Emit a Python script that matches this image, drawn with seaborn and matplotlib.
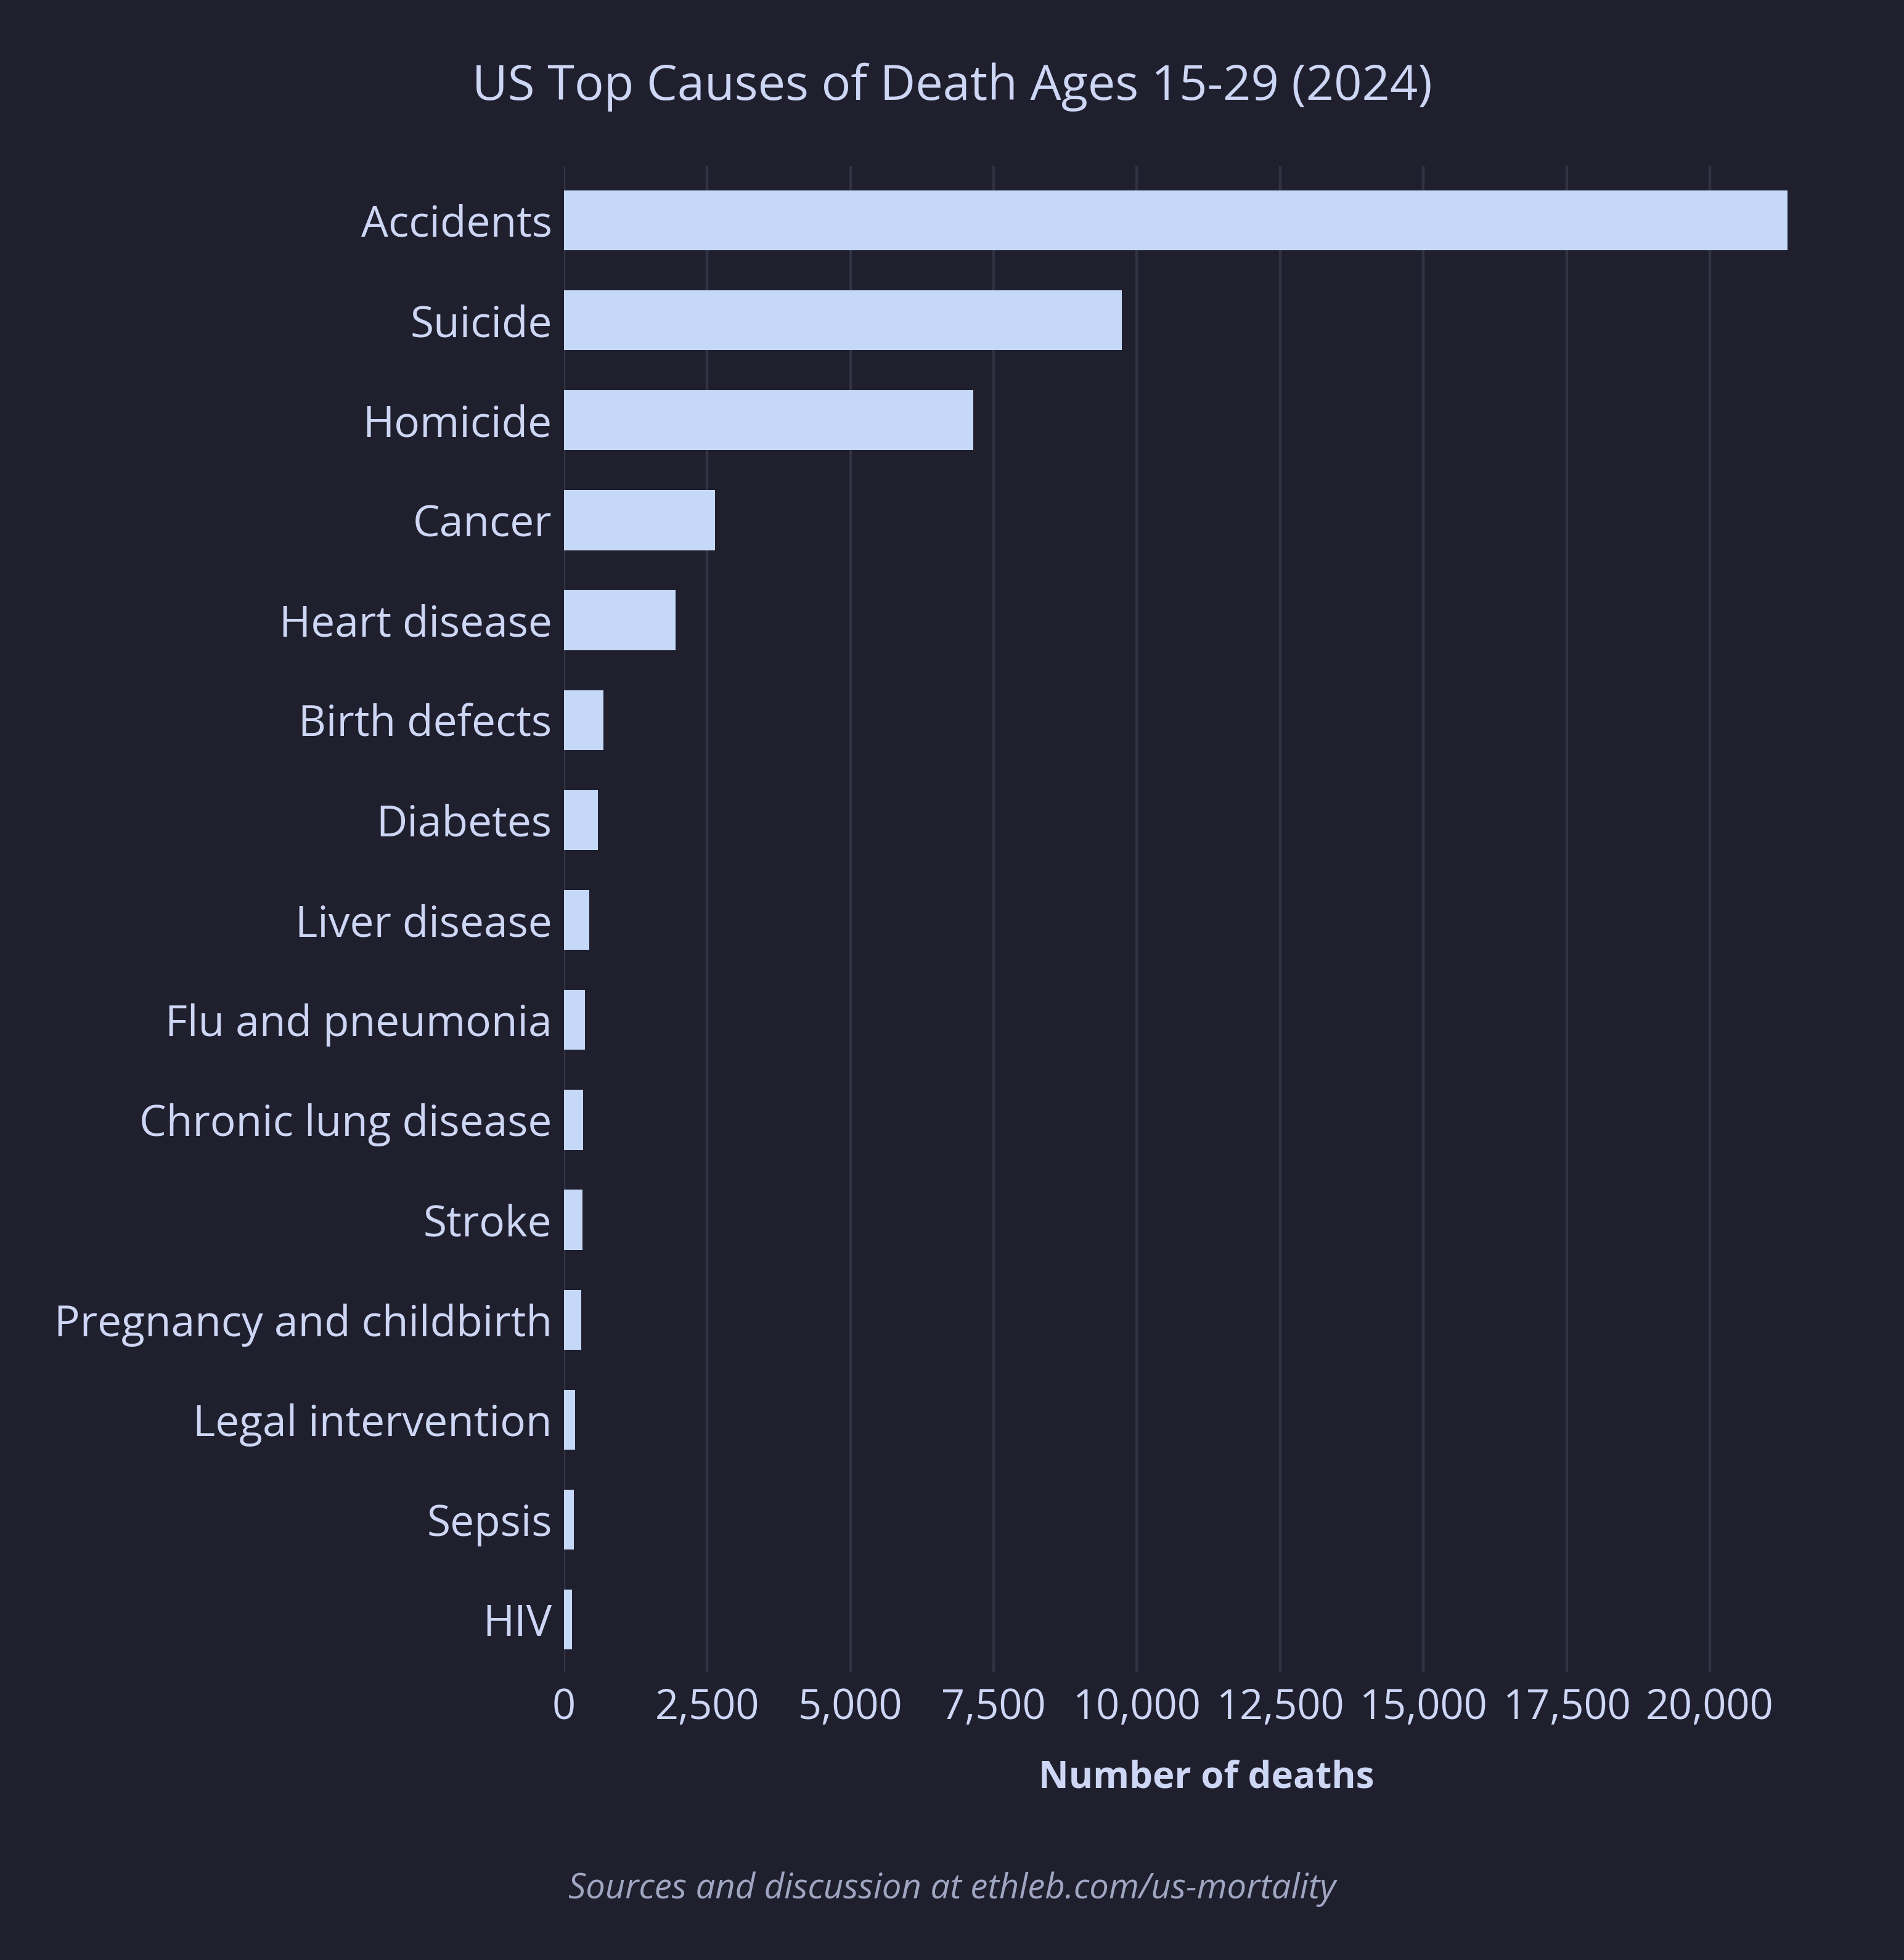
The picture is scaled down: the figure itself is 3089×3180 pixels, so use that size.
import matplotlib
matplotlib.use("Agg")
import matplotlib.pyplot as plt
import matplotlib.ticker as mticker
import pandas as pd
import seaborn as sns

causes = ["Accidents", "Suicide", "Homicide", "Cancer", "Heart disease",
          "Birth defects", "Diabetes", "Liver disease", "Flu and pneumonia",
          "Chronic lung disease", "Stroke", "Pregnancy and childbirth",
          "Legal intervention", "Sepsis", "HIV"]
deaths = [21356, 9737, 7144, 2636, 1947, 689, 592, 441, 366, 334, 323, 301,
          194, 172, 140]
xticks = [0, 2500, 5000, 7500, 10000, 12500, 15000, 17500, 20000]

bg = "#1f1f2e"
fg = "#cdd6f4"
bar_color = "#c5d8f7"
grid_color = "#313244"
muted = "#a0a6c2"

sns.set_theme(style="dark")
plt.rcParams["font.family"] = ["Open Sans", "DejaVu Sans"]

df = pd.DataFrame({"cause": causes, "deaths": deaths})

fig = plt.figure(figsize=(15.445, 15.9), dpi=200, facecolor=bg)
ax = fig.add_axes([0.2962, 0.1469, 0.6426, 0.7685])
ax.set_facecolor(bg)

sns.barplot(data=df, x="deaths", y="cause", order=causes, color=bar_color,
            width=0.6, saturation=1, linewidth=0, ax=ax)

ax.set_xlim(0, max(deaths))
ax.set_ylim(len(causes) - 0.475, -0.545)
ax.set_xticks(xticks)
ax.xaxis.set_major_formatter(mticker.FuncFormatter(lambda v, p: f"{int(v):,}"))
ax.grid(axis="x", color=grid_color, linewidth=1.6)
ax.grid(axis="y", visible=False)
ax.set_axisbelow(True)
for s in ax.spines.values():
    s.set_visible(False)
ax.tick_params(axis="both", length=0, colors=fg)
ax.tick_params(axis="y", pad=7, labelsize=25)
ax.tick_params(axis="x", pad=9, labelsize=24)

ax.set_ylabel("")
ax.set_xlabel("Number of deaths", color=fg, fontsize=21.6, fontweight="bold")
ax.xaxis.set_label_coords(0.525, -0.058)

fig.text(0.5, 0.9555, "US Top Causes of Death Ages 15-29 (2024)", ha="center",
         va="center", color=fg, fontsize=28.6)
fig.text(0.5, 0.036, "Sources and discussion at ethleb.com/us-mortality",
         ha="center", va="center", color=muted, fontsize=20.2, style="italic")

fig.savefig("out.png", dpi=200, facecolor=bg)
